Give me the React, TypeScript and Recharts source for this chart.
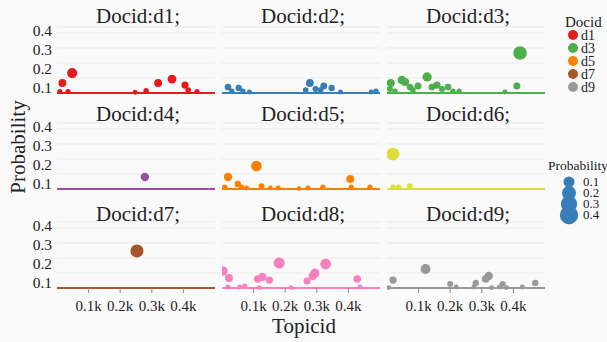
import React from 'react';
import { ScatterChart, Scatter, XAxis, YAxis, ZAxis, CartesianGrid, ReferenceLine } from 'recharts';

const docids = ['d1', 'd2', 'd3', 'd4', 'd5', 'd6', 'd7', 'd8', 'd9'];
const colors = ['#e41a1c', '#377eb8', '#4daf4a', '#984ea3', '#ff7f00', '#dcdf3a', '#a65628', '#f781bf', '#999999'];

const d1Topics = [9, 17, 35, 48, 247, 282, 320, 364, 405, 415, 443];
const d1Probs = [0.01, 0.067, 0.01, 0.133, 0.005, 0.015, 0.067, 0.093, 0.053, 0.02, 0.01];
const d2Topics = [19, 31, 53, 66, 87, 265, 278, 296, 312, 322, 347, 375, 472, 487];
const d2Probs = [0.04, 0.013, 0.033, 0.013, 0.007, 0.02, 0.067, 0.027, 0.02, 0.047, 0.033, 0.007, 0.007, 0.013];
const d3Topics = [9, 12, 25, 47, 57, 73, 82, 98, 127, 142, 158, 174, 193, 209, 228, 373, 411, 421];
const d3Probs = [0.027, 0.067, 0.013, 0.087, 0.073, 0.04, 0.02, 0.047, 0.107, 0.04, 0.053, 0.027, 0.04, 0.013, 0.013, 0.007, 0.047, 0.267];
const d4Topics = [278];
const d4Probs = [0.08];
const d5Topics = [9, 19, 50, 62, 78, 109, 125, 153, 178, 244, 272, 319, 406, 409, 468];
const d5Probs = [0.013, 0.08, 0.033, 0.013, 0.007, 0.153, 0.02, 0.007, 0.007, 0.003, 0.007, 0.013, 0.067, 0.013, 0.013];
const d6Topics = [19, 19, 37, 72];
const d6Probs = [0.233, 0.013, 0.013, 0.02];
const d7Topics = [253];
const d7Probs = [0.247];
const d8Topics = [3, 19, 22, 56, 72, 113, 119, 128, 150, 181, 219, 269, 287, 294, 328, 428, 437];
const d8Probs = [0.113, 0.007, 0.067, 0.007, 0.013, 0.06, 0.003, 0.073, 0.053, 0.167, 0.003, 0.047, 0.08, 0.1, 0.16, 0.06, 0.007];
const d9Topics = [6, 19, 122, 200, 219, 275, 281, 312, 322, 331, 356, 366, 378, 428, 469];
const d9Probs = [0.003, 0.053, 0.127, 0.027, 0.007, 0.007, 0.033, 0.06, 0.08, 0.003, 0.007, 0.027, 0.003, 0.007, 0.033];

const topicLists = [d1Topics, d2Topics, d3Topics, d4Topics, d5Topics, d6Topics, d7Topics, d8Topics, d9Topics];
const probLists = [d1Probs, d2Probs, d3Probs, d4Probs, d5Probs, d6Probs, d7Probs, d8Probs, d9Probs];

const xTicks = [100, 200, 300, 400];
const xTickLabels = ['0.1k', '0.2k', '0.3k', '0.4k'];
const yTicks = [0.1, 0.2, 0.3, 0.4];
const yTickLabels = ['0.1', '0.2', '0.3', '0.4'];
const legendDocs = ['d1', 'd3', 'd5', 'd7', 'd9'];
const legendDocColors = ['#e41a1c', '#4daf4a', '#ff7f00', '#a65628', '#999999'];
const sizeLegendValues = [0.1, 0.2, 0.3, 0.4];

const FONT = "'Liberation Serif', 'Times New Roman', 'DejaVu Serif', serif";
const TEXT = '#222222';
const COL_LEFT = [57, 222, 387];
const ROW_TOP = [27, 123, 222];
const PLOT_W = 158;
const PLOT_H = 66;
const PAD = 10;
const Z_RANGE: [number, number] = [16, 210];

const txt = (size: number): React.CSSProperties => ({ fontFamily: FONT, fontSize: size, fill: TEXT });

const YTick = (props: any) => {
  const { x, y, payload } = props;
  const v = payload.value as number;
  const i = yTicks.indexOf(v);
  const shift = -2 + (0.4 - v) * 37;
  return (
    <text x={x} y={y + shift} dy="0.35em" textAnchor="end" style={txt(15.5)}>
      {yTickLabels[i] ?? String(v)}
    </text>
  );
};

const XTick = (props: any) => {
  const { x, y, payload } = props;
  const i = xTicks.indexOf(payload.value);
  return (
    <text x={x} y={y} dy="0.75em" textAnchor="middle" style={txt(15)}>
      {xTickLabels[i] ?? String(payload.value)}
    </text>
  );
};

function Panel({ idx }: { idx: number }) {
  const row = Math.floor(idx / 3);
  const col = idx % 3;
  const showY = col === 0;
  const showX = row === 2;
  const yW = showY ? 57 : 0;
  const xH = showX ? 34 : 0;
  const mBottom = showX ? 0 : PAD;
  const width = PLOT_W + yW;
  const height = PLOT_H + xH + PAD + mBottom;
  const color = colors[idx];
  const data = topicLists[idx].map((t, k) => ({ x: t, y: probLists[idx][k], z: probLists[idx][k] }));
  return (
    <div style={{ position: 'absolute', left: COL_LEFT[col] - yW, top: ROW_TOP[row] - PAD, width, height }}>
      <ScatterChart width={width} height={height} margin={{ top: PAD, right: 0, bottom: mBottom, left: 0 }} style={{ fontFamily: FONT }}>
        <CartesianGrid horizontal={true} vertical={false} stroke="#ebebeb" strokeWidth={1} />
        <XAxis
          type="number"
          dataKey="x"
          domain={[0, 500]}
          ticks={xTicks}
          hide={!showX}
          height={xH}
          axisLine={false}
          tickSize={5}
          tickMargin={7}
          tickLine={{ stroke: '#8a8a8a' }}
          tick={<XTick />}
          interval={0}
        />
        <YAxis
          type="number"
          dataKey="y"
          domain={[0, 0.44]}
          ticks={yTicks}
          hide={!showY}
          width={yW}
          axisLine={false}
          tickLine={false}
          tickSize={0}
          tickMargin={5}
          tick={<YTick />}
          interval={0}
        />
        <ZAxis type="number" dataKey="z" domain={[0, 0.4]} range={Z_RANGE} />
        <ReferenceLine y={0} stroke={color} strokeWidth={2} ifOverflow="visible" />
        <Scatter data={data} fill={color} isAnimationActive={false} />
      </ScatterChart>
    </div>
  );
}

function Overlay() {
  const titleBase = [23, 121, 221];
  return (
    <svg width={607} height={342} style={{ position: 'absolute', left: 0, top: 0, pointerEvents: 'none' }}>
      {docids.map((d, i) => {
        const row = Math.floor(i / 3);
        const col = i % 3;
        return (
          <text key={d} x={COL_LEFT[col] + PLOT_W / 2 + 2} y={titleBase[row]} textAnchor="middle" style={txt(21)}>
            {`Docid:${d};`}
          </text>
        );
      })}
      <text transform="translate(25,147) rotate(-90)" textAnchor="middle" style={txt(21)}>Probability</text>
      <text x={304} y={333} textAnchor="middle" style={txt(21)}>Topicid</text>
      <text x={565} y={27} style={txt(15)}>Docid</text>
      {legendDocs.map((d, i) => (
        <g key={d}>
          <circle cx={573} cy={35 + 13 * i} r={5} fill={legendDocColors[i]} />
          <text x={581} y={35 + 13 * i + 4.5} style={txt(14)}>{d}</text>
        </g>
      ))}
      <text x={548} y={170} style={txt(13.5)}>Probability</text>
      {sizeLegendValues.map((v, i) => {
        const area = Z_RANGE[0] + (Z_RANGE[1] - Z_RANGE[0]) * (v / 0.4);
        const r = Math.sqrt(area / Math.PI) + 1;
        return <circle key={v} cx={569} cy={182 + 11 * i} r={r} fill="#377eb8" />;
      })}
      {sizeLegendValues.map((v, i) => (
        <text key={'t' + v} x={583} y={182 + 11 * i + 4} style={txt(13)}>{v.toFixed(1)}</text>
      ))}
    </svg>
  );
}

export default function App() {
  return (
    <div style={{ position: 'absolute', left: 0, top: 0, width: 607, height: 342, background: '#fafafa', overflow: 'hidden', fontFamily: FONT }}>
      {docids.map((d, i) => (
        <Panel key={d} idx={i} />
      ))}
      <Overlay />
    </div>
  );
}
